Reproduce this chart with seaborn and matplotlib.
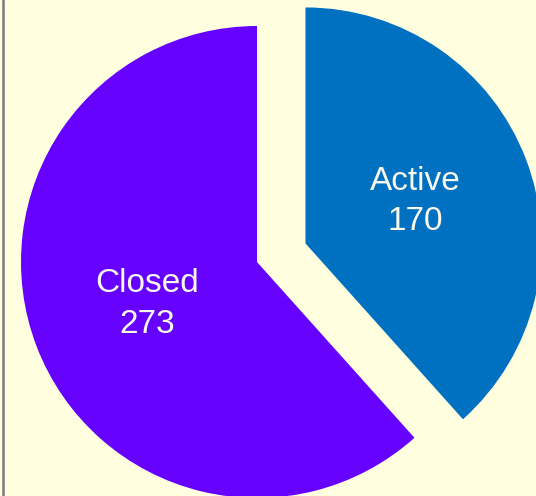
import matplotlib
matplotlib.use("Agg")
import matplotlib.pyplot as plt
import seaborn as sns
from matplotlib.lines import Line2D

categories = ["Active", "Closed"]
values = [170, 273]
colors = ["#0070C0", "#6600FF"]
explode = [0.22, 0.0]

sns.set_theme(style="white")
plt.rcParams['font.family'] = ['Liberation Sans', 'DejaVu Sans']

W, H = 536, 496
fig = plt.figure(figsize=(W / 100, H / 100), dpi=100)
fig.patch.set_facecolor("#FFFFE0")
ax = fig.add_axes([0, 0, 1, 1])
ax.set_facecolor("#FFFFE0")

labels = [f"{c}\n{v}" for c, v in zip(categories, values)]
wedges, texts = ax.pie(values, labels=labels, colors=colors, explode=explode,
                       startangle=90, counterclock=False, labeldistance=0.5,
                       wedgeprops=dict(linewidth=0),
                       textprops=dict(color="#F8F8EC", fontsize=24,
                                      ha="center", va="center",
                                      linespacing=1.4))

R = 236.0
cx, cy = 257.0, 262.0
ax.set_xlim(-cx / R, (W - cx) / R)
ax.set_ylim(-(H - cy) / R, cy / R)
ax.set_aspect("auto")
ax.axis("off")

fig.add_artist(Line2D([3 / W, 3 / W], [0, 1], transform=fig.transFigure,
                      color="#7A7A7A", linewidth=1.8))

fig.savefig("out.png", dpi=100, facecolor=fig.get_facecolor())
